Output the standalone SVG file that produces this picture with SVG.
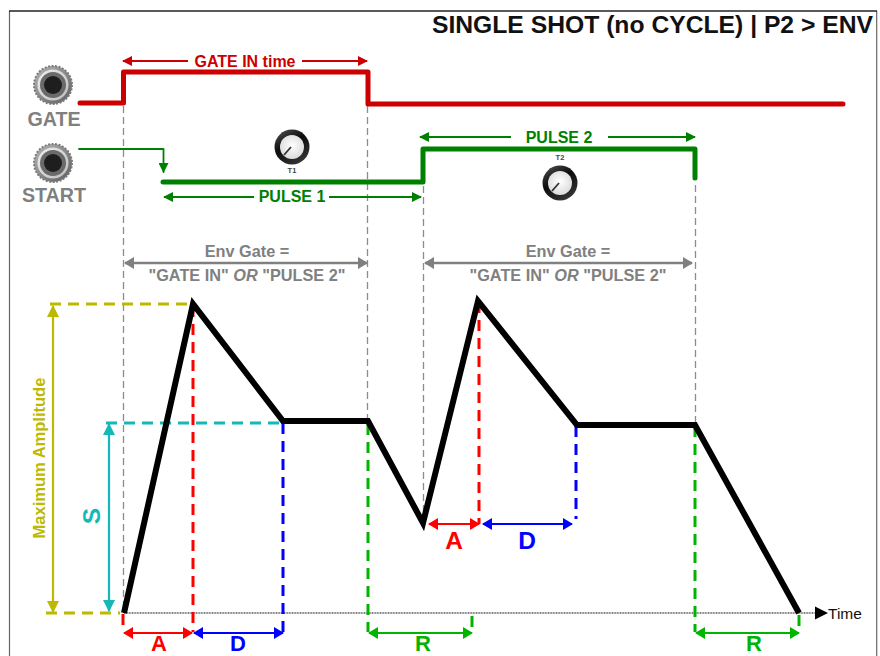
<svg xmlns="http://www.w3.org/2000/svg" width="880" height="656" viewBox="0 0 880 656">
<defs>
<style>
text{font-family:"Liberation Sans",Arial,sans-serif;font-weight:bold}
.g{stroke:#8c8c8c;stroke-width:1.300;stroke-dasharray:7 4;fill:none}
.big{font-size:24.500px;text-anchor:middle}
.low{font-size:22px;text-anchor:middle}
.lab{font-size:16px;text-anchor:middle}
.gl{font-size:16.300px;text-anchor:middle;fill:#808080}
.jl{font-size:19.700px;text-anchor:middle;fill:#808080}
.d{fill:none;stroke-width:3;stroke-dasharray:11 7}
.a{fill:none;stroke-width:2.200}
</style>
<marker id="mr" markerWidth="10" markerHeight="10" refX="9" refY="5" orient="auto-start-reverse" markerUnits="userSpaceOnUse"><path d="M0 0L10 5L0 10Z" fill="#cc0000"/></marker>
<marker id="mg" markerWidth="10" markerHeight="10" refX="9" refY="5" orient="auto-start-reverse" markerUnits="userSpaceOnUse"><path d="M0 0L10 5L0 10Z" fill="#008000"/></marker>
<marker id="my" markerWidth="12" markerHeight="12" refX="11" refY="6" orient="auto-start-reverse" markerUnits="userSpaceOnUse"><path d="M0 0L12 6L0 12Z" fill="#bdb800"/></marker>
<marker id="mc" markerWidth="12" markerHeight="12" refX="11" refY="6" orient="auto-start-reverse" markerUnits="userSpaceOnUse"><path d="M0 0L12 6L0 12Z" fill="#14b8b8"/></marker>
<marker id="mx" markerWidth="10" markerHeight="12" refX="9" refY="6" orient="auto-start-reverse" markerUnits="userSpaceOnUse"><path d="M0 0L10 6L0 12Z" fill="#808080"/></marker>
<marker id="ma" markerWidth="10" markerHeight="12" refX="9" refY="6" orient="auto-start-reverse" markerUnits="userSpaceOnUse"><path d="M0 0L10 6L0 12Z" fill="#ff0000"/></marker>
<marker id="mb" markerWidth="10" markerHeight="12" refX="9" refY="6" orient="auto-start-reverse" markerUnits="userSpaceOnUse"><path d="M0 0L10 6L0 12Z" fill="#0000ff"/></marker>
<marker id="mn" markerWidth="10" markerHeight="12" refX="9" refY="6" orient="auto-start-reverse" markerUnits="userSpaceOnUse"><path d="M0 0L10 6L0 12Z" fill="#00b400"/></marker>
<radialGradient id="kn" cx="0.5" cy="0.45" r="0.6"><stop offset="0" stop-color="#ffffff"/><stop offset="1" stop-color="#d8d8d8"/></radialGradient>
<linearGradient id="kr" x1="0" y1="0" x2="0.6" y2="1"><stop offset="0" stop-color="#555"/><stop offset="0.5" stop-color="#0c0c0c"/><stop offset="1" stop-color="#333"/></linearGradient>
<linearGradient id="jr" x1="0" y1="0" x2="1" y2="1"><stop offset="0" stop-color="#b8b8b8"/><stop offset="1" stop-color="#5c5c5c"/></linearGradient>
<linearGradient id="ji" x1="0" y1="0" x2="1" y2="1"><stop offset="0" stop-color="#f0f0f0"/><stop offset="1" stop-color="#bcbcbc"/></linearGradient>
<g id="jack">
<circle r="19" fill="url(#jr)" stroke="#7a7a7a" stroke-width="2" stroke-dasharray="2 1.500"/>
<circle r="15.500" fill="url(#ji)"/>
<circle r="13" fill="#6a6a6a"/>
<circle r="9" fill="#1e1e1e"/>
</g>
<g id="knob">
<circle r="17.500" fill="url(#kr)"/>
<circle r="12" fill="url(#kn)"/>
<path d="M-8 8L-1 0" stroke="#333" stroke-width="1.800" fill="none"/>
</g>
</defs>
<rect width="880" height="656" fill="#fff"/>
<g id="frame" fill="none">
<path d="M9.500 656V11" stroke="#666" stroke-width="1.200"/>
<path d="M876.700 656V11" stroke="#666" stroke-width="1.200"/>
<path d="M9 11H877" stroke="#222" stroke-width="1.600"/>
</g>
<text id="title" x="873" y="33" font-size="24.700" text-anchor="end" fill="#111">SINGLE SHOT (no CYCLE) | P2 &gt; ENV</text>
<g id="connectors">
<g id="guides">
<path class="g" d="M123.500 106V613"/>
<path class="g" d="M367.500 106V422"/>
<path class="g" d="M423.500 186V522"/>
<path class="g" d="M695.500 185V424"/>
</g>
<g id="signals" fill="none" stroke-linecap="round" stroke-linejoin="round">
<path d="M80 103H123.500V72H368V104H843" stroke="#cc0000" stroke-width="5"/>
<path d="M163 182H423V149H695V178" stroke="#008000" stroke-width="5"/>
<path d="M79 149H163.500V172" stroke="#008000" stroke-width="1.800" marker-end="url(#mg)"/>
</g>
<path d="M124 613H815" stroke="#555" stroke-width="1.600" stroke-dasharray="1 0.600"/>
<path d="M815 606.500L828 613L815 619.500Z" fill="#000"/>
<g id="timing-arrows">
<path class="a" stroke="#cc0000" d="M188 61H123" marker-end="url(#mr)"/>
<path class="a" stroke="#cc0000" d="M302 61H367" marker-end="url(#mr)"/>
<path class="a" stroke="#008000" d="M254 197H164" marker-end="url(#mg)"/>
<path class="a" stroke="#008000" d="M329 197H421" marker-end="url(#mg)"/>
<path class="a" stroke="#008000" d="M511 137H420" marker-end="url(#mg)"/>
<path class="a" stroke="#008000" d="M608 137H695" marker-end="url(#mg)"/>
<path d="M125 263H367" stroke="#808080" stroke-width="2.600" fill="none" marker-start="url(#mx)" marker-end="url(#mx)"/>
<path d="M425 263H692" stroke="#808080" stroke-width="2.600" fill="none" marker-start="url(#mx)" marker-end="url(#mx)"/>
</g>
<g id="level-guides">
<path class="d" stroke="#bdb800" d="M50 304H192"/>
<path class="d" stroke="#bdb800" d="M46 613H120"/>
<path class="d" stroke="#14b8b8" d="M106 423H282"/>
<path d="M53 306V612" stroke="#bdb800" stroke-width="2.200" fill="none" marker-start="url(#my)" marker-end="url(#my)"/>
<path d="M109 424V611" stroke="#14b8b8" stroke-width="2.200" fill="none" marker-start="url(#mc)" marker-end="url(#mc)"/>
</g>
<g id="phase-guides">
<path class="d" stroke="#ff0000" d="M193 306V632"/>
<path class="d" stroke="#ff0000" d="M123 614V632"/>
<path class="d" stroke="#0000ff" d="M283 423V632"/>
<path class="d" stroke="#ff0000" d="M479 302V524"/>
<path class="d" stroke="#0000ff" d="M576 426V519"/>
<path class="d" stroke="#00b400" d="M368 424V632"/>
<path class="d" stroke="#00b400" d="M472 616V632"/>
<path class="d" stroke="#00b400" d="M695 426V632"/>
<path class="d" stroke="#00b400" d="M799 615V632"/>
</g>
<g id="phase-arrows">
<path class="a" stroke="#ff0000" d="M124 633H192" marker-start="url(#ma)" marker-end="url(#ma)"/>
<path class="a" stroke="#0000ff" d="M194 633H283" marker-start="url(#mb)" marker-end="url(#mb)"/>
<path class="a" stroke="#ff0000" d="M429 524H479" marker-start="url(#ma)" marker-end="url(#ma)"/>
<path class="a" stroke="#0000ff" d="M483 524H572" marker-start="url(#mb)" marker-end="url(#mb)"/>
<path class="a" stroke="#00b400" d="M369 633H472" marker-start="url(#mn)" marker-end="url(#mn)"/>
<path class="a" stroke="#00b400" d="M696 633H799" marker-start="url(#mn)" marker-end="url(#mn)"/>
</g>
<path id="envelope" d="M124 613L193 304L283 421H368L423 523L478 301L577 425H695L799 613" fill="none" stroke="#000" stroke-width="6" stroke-linejoin="miter" stroke-miterlimit="3"/>
</g>
<g id="gate-jack"><use href="#jack" x="53" y="85"/><text class="jl" x="54" y="126">GATE</text></g>
<g id="start-jack"><use href="#jack" x="53" y="163"/><text class="jl" x="54" y="202">START</text></g>
<g id="t1-knob"><use href="#knob" x="292" y="147"/><text x="292" y="173" font-size="7.500" text-anchor="middle" fill="#444">T1</text></g>
<g id="t2-knob"><use href="#knob" x="560" y="183"/><text x="560" y="160" font-size="7.500" text-anchor="middle" fill="#444">T2</text></g>
<g id="labels">
<text class="lab" x="245" y="67" fill="#cc0000">GATE IN time</text>
<text class="lab" x="292" y="202" fill="#008000">PULSE 1</text>
<text class="lab" x="559" y="143" fill="#008000">PULSE 2</text>
<text class="gl" x="247" y="257">Env Gate =</text>
<text class="gl" x="247" y="281">"GATE IN" <tspan font-style="italic">OR</tspan> "PULSE 2"</text>
<text class="gl" x="568" y="257">Env Gate =</text>
<text class="gl" x="568" y="281">"GATE IN" <tspan font-style="italic">OR</tspan> "PULSE 2"</text>
<text class="low" x="159" y="651" fill="#ff0000">A</text>
<text class="low" x="238" y="651" fill="#0000ff">D</text>
<text class="low" x="423" y="651" fill="#00b400">R</text>
<text class="low" x="754" y="651" fill="#00b400">R</text>
<text class="big" x="454" y="549" fill="#ff0000">A</text>
<text class="big" x="527" y="549" fill="#0000ff">D</text>
<text class="big" transform="translate(100 516) rotate(-90)" fill="#14b8b8">S</text>
<text transform="translate(45 458) rotate(-90)" font-size="16.500" text-anchor="middle" fill="#bdb800">Maximum Amplitude</text>
<text x="828" y="619" font-size="15.500" fill="#111" style="font-weight:normal">Time</text>
</g>
</svg>
